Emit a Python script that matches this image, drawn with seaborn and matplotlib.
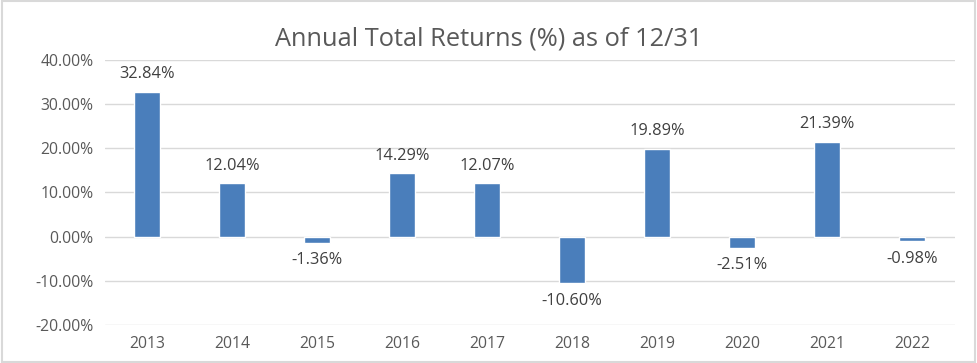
import pandas as pd
import matplotlib.pyplot as plt
import seaborn as sns

years = ["2013", "2014", "2015", "2016", "2017", "2018", "2019", "2020", "2021", "2022"]
returns = [32.84, 12.04, -1.36, 14.29, 12.07, -10.60, 19.89, -2.51, 21.39, -0.98]

df = pd.DataFrame({"year": years, "ret": returns})

sns.set_style("white")
plt.rcParams['font.family'] = ['Open Sans', 'DejaVu Sans']

fig = plt.figure(figsize=(9.77, 3.63), dpi=100)
ax = fig.add_axes([0.107, 0.105, 0.87, 0.73])

sns.barplot(data=df, x="year", y="ret", color="#4a7ebb", saturation=1, width=0.31, ax=ax, zorder=3)

ax.set_ylim(-20, 40)
ax.set_yticks(range(-20, 41, 10))
ax.set_yticklabels([f"{v:.2f}%" for v in range(-20, 41, 10)])
ax.grid(axis="y", color="#d9d9d9", linewidth=1, zorder=0)
for s in ax.spines.values():
    s.set_visible(False)
ax.tick_params(axis="both", length=0, labelsize=11.3, labelcolor="#595959", pad=8)
ax.set_xlabel("")
ax.set_ylabel("")

for i, v in enumerate(returns):
    if v >= 0:
        ax.annotate(f"{v:.2f}%", (i, v), xytext=(0, 7), textcoords="offset points",
                    ha="center", va="bottom", fontsize=11.8, color="#404040")
    else:
        ax.annotate(f"{v:.2f}%", (i, v), xytext=(0, -7), textcoords="offset points",
                    ha="center", va="top", fontsize=11.8, color="#404040")

fig.text(0.5, 0.893, "Annual Total Returns (%) as of 12/31", ha="center", va="center",
         fontsize=18.3, color="#595959")

fig.patches.append(plt.Rectangle((0.002, 0.003), 0.996, 0.994, transform=fig.transFigure,
                                 fill=False, edgecolor="#d9d9d9", linewidth=1.5))

fig.savefig("out.png", dpi=100)
